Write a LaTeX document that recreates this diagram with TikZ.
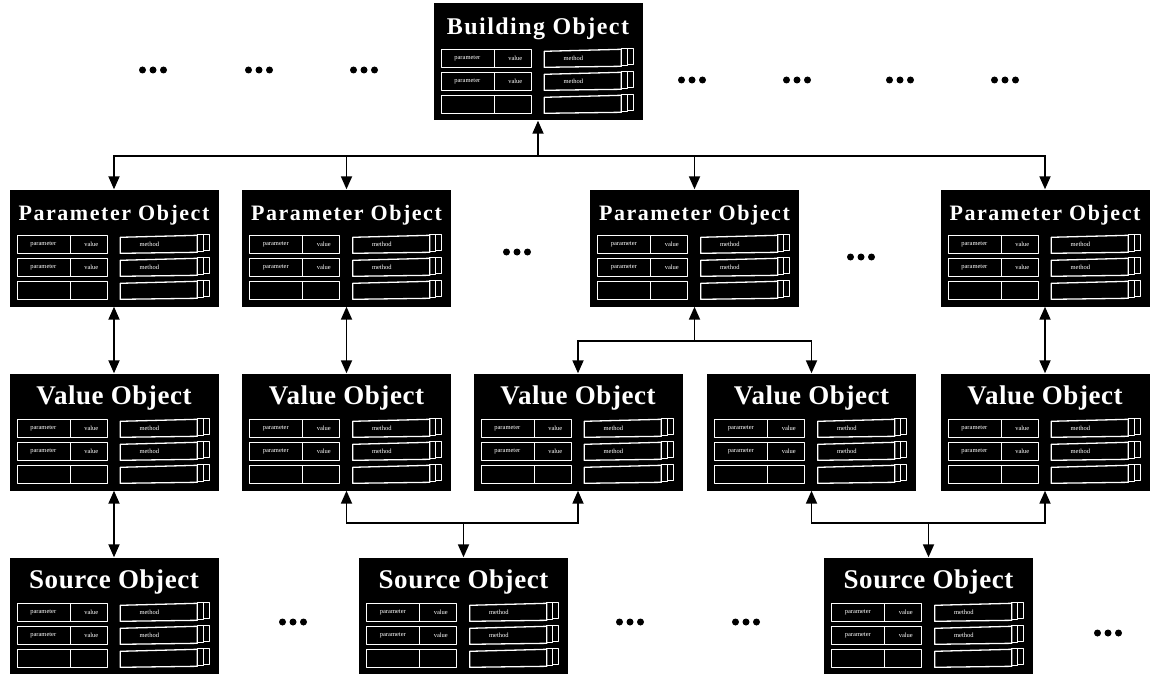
\documentclass[tikz,border=0pt]{standalone}
\usepackage{fontspec}
\newfontfamily\titlefont{Liberation Serif}
\usetikzlibrary{arrows.meta}

\tikzset{
  obj/.style={fill=black, minimum width=209pt, minimum height=117pt, inner sep=0pt},
  cell/.style={draw=white, line width=1.3pt, line join=round},
  celltext/.style={text=white, inner sep=0pt, font=\titlefont\fontsize{6.5}{6.5}\selectfont},
  objtitle/.style={text=white, anchor=base, inner sep=0pt},
  btitle/.style={font=\titlefont\bfseries\fontsize{24}{24}\selectfont\addfontfeatures{LetterSpace=6}},
  ptitle/.style={font=\titlefont\bfseries\fontsize{22}{22}\selectfont\addfontfeatures{LetterSpace=7}},
  vtitle/.style={font=\titlefont\bfseries\fontsize{27}{27}\selectfont\addfontfeatures{LetterSpace=2}},
  arr/.style={line width=1.8pt, -{Triangle[length=13pt,width=11pt]}},
  twoway/.style={line width=1.8pt, {Triangle[length=13pt,width=11pt]}-{Triangle[length=13pt,width=11pt]}},
  etc/.style={minimum width=30pt, minimum height=8pt, inner sep=0pt,
    path picture={\foreach \d in {-10.5,0,10.5}
      \fill ([xshift=\d pt]path picture bounding box.center) circle (3.5pt);}}
}

% one object: name, position, title, title style
\newcommand{\objbox}[4]{%
  \node[obj] (#1) at #2 {};
  \node[objtitle, #4] (#1t) at ([yshift=-31pt]#1.north) {#3};
  \begin{scope}[shift={(#1.north west)}]
    \foreach \r in {46,69,92} {
      \draw[cell] (8,\r) rectangle (98,\r+18);
      \draw[cell] (61,\r) -- (61,\r+18);
      \draw[cell] (111,\r+2) -- (188,\r) -- (188,\r+17) -- (111,\r+18) -- cycle;
      \draw[cell] (188,\r-1) rectangle (194,\r+16);
      \draw[cell] (194,\r-1) rectangle (200,\r+15);
    }
    \foreach \r in {55,78} {
      \node[celltext] (#1p\r) at (34,\r) {parameter};
      \node[celltext] (#1v\r) at (82,\r) {value};
      \node[celltext] (#1m\r) at (140,\r) {method};
    }
  \end{scope}
}

\begin{document}
\begin{tikzpicture}[x=1pt, y=-1pt]
    \useasboundingbox (0,0) rectangle (1153,674);

    \objbox{B}{(538,62)}{Building Object}{btitle}

    \objbox{P1}{(114,248)}{Parameter Object}{ptitle}
    \objbox{P2}{(346.5,248)}{Parameter Object}{ptitle}
    \objbox{P3}{(694.5,248)}{Parameter Object}{ptitle}
    \objbox{P4}{(1045,248)}{Parameter Object}{ptitle}

    \objbox{V1}{(114,432)}{Value Object}{vtitle}
    \objbox{V2}{(346.5,432)}{Value Object}{vtitle}
    \objbox{V3}{(578,432)}{Value Object}{vtitle}
    \objbox{V4}{(811.5,432)}{Value Object}{vtitle}
    \objbox{V5}{(1045,432)}{Value Object}{vtitle}

    \objbox{S1}{(114,616)}{Source Object}{vtitle}
    \objbox{S2}{(463.5,616)}{Source Object}{vtitle}
    \objbox{S3}{(928.5,616)}{Source Object}{vtitle}

    % dots
    \node[etc] (d1) at (153,70) {};
    \node[etc] (d2) at (259,70) {};
    \node[etc] (d3) at (364,70) {};
    \node[etc] (d4) at (692,80) {};
    \node[etc] (d5) at (797,80) {};
    \node[etc] (d6) at (900,80) {};
    \node[etc] (d7) at (1005,80) {};
    \node[etc] (d8) at (517,252) {};
    \node[etc] (d9) at (861,257) {};
    \node[etc] (d10) at (293,622) {};
    \node[etc] (d11) at (630,622) {};
    \node[etc] (d12) at (746,622) {};
    \node[etc] (d13) at (1108,633) {};

    % connectors
    \coordinate (bus) at (538,156);
    \coordinate (j1) at (694.5,341);
    \coordinate (j2) at (463.5,523);
    \coordinate (j3) at (928.5,523);

    \draw[arr] (bus) -- (B.south);
    \draw[arr] (bus) -| (P1.north);
    \draw[arr] (bus) -| (P2.north);
    \draw[arr] (bus) -| (P3.north);
    \draw[arr] (bus) -| (P4.north);

    \draw[twoway] (P1) -- (V1);
    \draw[twoway] (P2) -- (V2);
    \draw[twoway] (P4) -- (V5);
    \draw[twoway] (V1) -- (S1);

    \draw[arr] (j1) -- (P3.south);
    \draw[arr] (j1) -| (V3.north);
    \draw[arr] (j1) -| (V4.north);

    \draw[arr] (j2) -- (S2.north);
    \draw[arr] (j2) -| (V2.south);
    \draw[arr] (j2) -| (V3.south);

    \draw[arr] (j3) -- (S3.north);
    \draw[arr] (j3) -| (V4.south);
    \draw[arr] (j3) -| (V5.south);

\end{tikzpicture}
\end{document}
